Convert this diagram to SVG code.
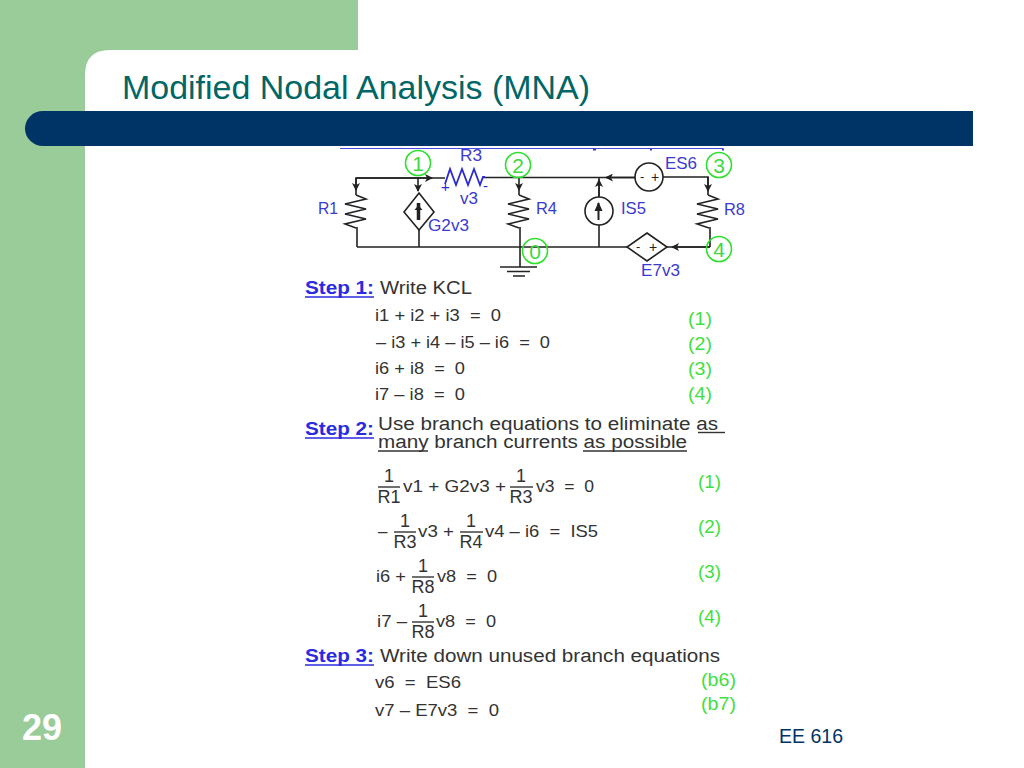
<svg xmlns="http://www.w3.org/2000/svg" width="1024" height="768" viewBox="0 0 1024 768">
<style>
text{font-family:"Liberation Sans",Arial,sans-serif}
.w{fill:none;stroke:#222;stroke-width:1.6}
.z{fill:none;stroke:#222;stroke-width:1.6;stroke-linejoin:miter}
.zb{fill:none;stroke:#2a2ad0;stroke-width:1.8}
.sym{fill:#fff;stroke:#222;stroke-width:1.6}
.c{fill:none;stroke:#2fe02f;stroke-width:1.6}
.cn{fill:#3fd83f;font-size:21px;text-anchor:middle}
.l{fill:#3a3ad0;font-size:16.500px}
.s{fill:#2a2ae0;font-size:18px;font-weight:bold}
.t{fill:#333;font-size:18px}
.e{fill:#333;font-size:17px}
.f{fill:#333;font-size:18px;text-anchor:middle}
.g{fill:#3fe03f;font-size:18px}
.u{stroke:#2a2ae0;stroke-width:1.5}
.d{stroke:#333;stroke-width:1.4}
</style>
<defs>
<marker id="a" markerUnits="userSpaceOnUse" markerWidth="9" markerHeight="8" refX="7" refY="4" orient="auto"><path d="M0 0L8 4L0 8L2 4Z" fill="#222"/></marker>
</defs>
<g id="background">
<rect width="1024" height="768" fill="#fff"/>
<path d="M0 0H358V50H110Q85 50 85 75V768H0Z" fill="#99cc99"/>
<path d="M43 111H973V146H43A18 17.500 0 0 1 43 111Z" fill="#003366"/>
<path d="M340 148.500H723" stroke="#4a4ae0" stroke-width="1"/>
<path d="M593 149.500h3M650 149.500h2M722 149.500h2" stroke="#3a3ad0" stroke-width="2"/>
<text x="122" y="99" font-size="33" fill="#006666" textLength="468" lengthAdjust="spacingAndGlyphs">Modified Nodal Analysis (MNA)</text>
<text x="22" y="740" font-size="36" font-weight="bold" fill="#fff">29</text>
<text x="779" y="743" font-size="20" fill="#003366" textLength="64" lengthAdjust="spacingAndGlyphs">EE 616</text>
</g>
<g id="connectors">
<path class="w" d="M357 247V227M356 195V178H445"/>
<path class="w" d="M356 178H432" marker-end="url(#a)"/>
<path class="w" d="M356 178V190" marker-end="url(#a)"/>
<path class="w" d="M483 177.500H635"/>
<path class="w" d="M635 177.500H606" marker-end="url(#a)"/>
<path class="w" d="M663 177H708V195"/>
<path class="w" d="M708 177V191" marker-end="url(#a)"/>
<path class="w" d="M418 178V191" marker-end="url(#a)"/>
<path class="w" d="M519 177V190" marker-end="url(#a)"/>
<path class="w" d="M519 190V195M520 227V267"/>
<path class="w" d="M599 197V177"/>
<path class="w" d="M599 197V180" marker-end="url(#a)"/>
<path class="w" d="M599 225V247M419 230V247M710 227V247"/>
<path class="w" d="M357 247H627M667 247H710"/>
<path class="w" d="M710 247H672" marker-end="url(#a)"/>
</g>
<g id="R1"><path class="z" d="M356 195l10 4-21 5 21 5-21 5 21 5-21 5 11 4"/><text class="l" x="318" y="214" textLength="20" lengthAdjust="spacingAndGlyphs">R1</text></g>
<g id="R3"><path class="zb" d="M445 184l5-15 6 16 6-16 6 16 6-16 6 16 3-8h2"/><text class="l" x="460" y="161" textLength="22" lengthAdjust="spacingAndGlyphs">R3</text><text class="l" x="460" y="204" textLength="18" lengthAdjust="spacingAndGlyphs">v3</text><text x="441" y="192" font-size="15" fill="#2a2ad0">+</text><text x="483" y="191" font-size="15" fill="#2a2ad0">-</text></g>
<g id="G2v3"><path class="sym" d="M419 193L434 212L419 230L404 212Z"/><path d="M418.500 203V220" stroke="#222" stroke-width="3.500"/><path d="M414.500 210L418.500 205L422.500 210Z" fill="#222"/><text class="l" x="428" y="231" textLength="41" lengthAdjust="spacingAndGlyphs">G2v3</text></g>
<g id="R4"><path class="z" d="M519 195l10 4-21 5 21 5-21 5 21 5-21 5 11 4"/><text class="l" x="536" y="214" textLength="21" lengthAdjust="spacingAndGlyphs">R4</text></g>
<g id="IS5"><circle class="sym" cx="599" cy="211" r="14"/><path d="M598.500 203V220" stroke="#222" stroke-width="2"/><path d="M594.500 211L598.500 202L602.500 211Z" fill="#222"/><text class="l" x="621" y="214" textLength="25" lengthAdjust="spacingAndGlyphs">IS5</text></g>
<g id="ES6"><circle class="sym" cx="649" cy="177" r="14"/><text x="640" y="181" font-size="13" fill="#222">-</text><text x="651" y="182" font-size="14" fill="#222">+</text><text class="l" x="665" y="169" textLength="32" lengthAdjust="spacingAndGlyphs">ES6</text></g>
<g id="R8"><path class="z" d="M708 195l10 4-21 5 21 5-21 5 21 5-21 5 12 4"/><text class="l" x="724" y="215" textLength="21" lengthAdjust="spacingAndGlyphs">R8</text></g>
<g id="E7v3"><path class="sym" d="M647 233L667 247L647 261L627 247Z"/><text x="636" y="251" font-size="13" fill="#222">-</text><text x="649" y="252" font-size="14" fill="#222">+</text><text class="l" x="641" y="276" textLength="39" lengthAdjust="spacingAndGlyphs">E7v3</text></g>
<g id="ground"><path class="w" d="M500 267H537M507 271.500H530M513 276H525"/></g>
<g id="node1"><circle class="c" cx="418" cy="163" r="12.500"/><text class="cn" x="418" y="170.500">1</text></g>
<g id="node2"><circle class="c" cx="518" cy="165" r="12.500"/><text class="cn" x="518" y="172.500">2</text></g>
<g id="node3"><circle class="c" cx="719" cy="165" r="12.500"/><text class="cn" x="719" y="172.500">3</text></g>
<g id="node0"><circle class="c" cx="535" cy="251" r="12.500"/><text class="cn" x="535" y="258.500">0</text></g>
<g id="node4"><circle class="c" cx="719" cy="249" r="12.500"/><text class="cn" x="719" y="256.500">4</text></g>
<g id="step1">
<text class="s" x="305" y="294" textLength="69" lengthAdjust="spacingAndGlyphs">Step 1:</text><path class="u" d="M305 297H374"/>
<text class="t" x="380" y="294" textLength="92" lengthAdjust="spacingAndGlyphs">Write KCL</text>
<text class="e" x="375" y="321" textLength="126" lengthAdjust="spacingAndGlyphs" xml:space="preserve">i1 + i2 + i3  =  0</text>
<text class="e" x="376" y="348" textLength="174" lengthAdjust="spacingAndGlyphs" xml:space="preserve">– i3 + i4 – i5 – i6  =  0</text>
<text class="e" x="375" y="374" textLength="90" lengthAdjust="spacingAndGlyphs" xml:space="preserve">i6 + i8  =  0</text>
<text class="e" x="375" y="400" textLength="90" lengthAdjust="spacingAndGlyphs" xml:space="preserve">i7 – i8  =  0</text>
<text class="g" x="688" y="325" textLength="24" lengthAdjust="spacingAndGlyphs">(1)</text><text class="g" x="688" y="350" textLength="24" lengthAdjust="spacingAndGlyphs">(2)</text><text class="g" x="688" y="375" textLength="24" lengthAdjust="spacingAndGlyphs">(3)</text><text class="g" x="688" y="400" textLength="24" lengthAdjust="spacingAndGlyphs">(4)</text>
</g>
<g id="step2">
<text class="s" x="305" y="435" textLength="69" lengthAdjust="spacingAndGlyphs">Step 2:</text><path class="u" d="M305 438H374"/>
<text class="t" x="378" y="430" textLength="340" lengthAdjust="spacingAndGlyphs">Use branch equations to eliminate as</text><path class="d" d="M698 432.500H725"/>
<text class="t" x="378" y="448" textLength="309" lengthAdjust="spacingAndGlyphs">many branch currents as possible</text><path class="d" d="M378 451H428M583 451H687"/>
<text class="f" x="389" y="482">1</text><path class="d" d="M378 487H400"/><text class="f" x="389" y="503">R1</text>
<text class="e" x="403" y="492" textLength="103" lengthAdjust="spacingAndGlyphs" xml:space="preserve">v1 + G2v3 +</text>
<text class="f" x="521" y="482">1</text><path class="d" d="M510 487H533"/><text class="f" x="521" y="503">R3</text>
<text class="e" x="536" y="492" textLength="58" lengthAdjust="spacingAndGlyphs" xml:space="preserve">v3  =  0</text>
<text class="e" x="378" y="537">–</text>
<text class="f" x="405" y="527">1</text><path class="d" d="M394 532H416"/><text class="f" x="405" y="548">R3</text>
<text class="e" x="418" y="537" textLength="36" lengthAdjust="spacingAndGlyphs" xml:space="preserve">v3 +</text>
<text class="f" x="471" y="527">1</text><path class="d" d="M460 532H483"/><text class="f" x="471" y="548">R4</text>
<text class="e" x="485" y="537" textLength="113" lengthAdjust="spacingAndGlyphs" xml:space="preserve">v4 – i6  =  IS5</text>
<text class="e" x="376" y="582" textLength="30" lengthAdjust="spacingAndGlyphs">i6 +</text>
<text class="f" x="423" y="572">1</text><path class="d" d="M412 577H434"/><text class="f" x="423" y="593">R8</text>
<text class="e" x="437" y="582" textLength="60" lengthAdjust="spacingAndGlyphs" xml:space="preserve">v8  =  0</text>
<text class="e" x="377" y="627" textLength="30" lengthAdjust="spacingAndGlyphs">i7 –</text>
<text class="f" x="423" y="617">1</text><path class="d" d="M412 622H434"/><text class="f" x="423" y="638">R8</text>
<text class="e" x="436" y="627" textLength="60" lengthAdjust="spacingAndGlyphs" xml:space="preserve">v8  =  0</text>
<text class="g" x="698" y="488" textLength="23" lengthAdjust="spacingAndGlyphs">(1)</text><text class="g" x="698" y="533" textLength="23" lengthAdjust="spacingAndGlyphs">(2)</text><text class="g" x="698" y="578" textLength="23" lengthAdjust="spacingAndGlyphs">(3)</text><text class="g" x="698" y="623" textLength="23" lengthAdjust="spacingAndGlyphs">(4)</text>
</g>
<g id="step3">
<text class="s" x="305" y="662" textLength="69" lengthAdjust="spacingAndGlyphs">Step 3:</text><path class="u" d="M305 665H374"/>
<text class="t" x="380" y="662" textLength="340" lengthAdjust="spacingAndGlyphs">Write down unused branch equations</text>
<text class="e" x="375" y="688" textLength="86" lengthAdjust="spacingAndGlyphs" xml:space="preserve">v6  =  ES6</text>
<text class="e" x="375" y="716" textLength="124" lengthAdjust="spacingAndGlyphs" xml:space="preserve">v7 – E7v3  =  0</text>
<text class="g" x="701" y="686" textLength="35" lengthAdjust="spacingAndGlyphs">(b6)</text><text class="g" x="701" y="710" textLength="35" lengthAdjust="spacingAndGlyphs">(b7)</text>
</g>
</svg>
